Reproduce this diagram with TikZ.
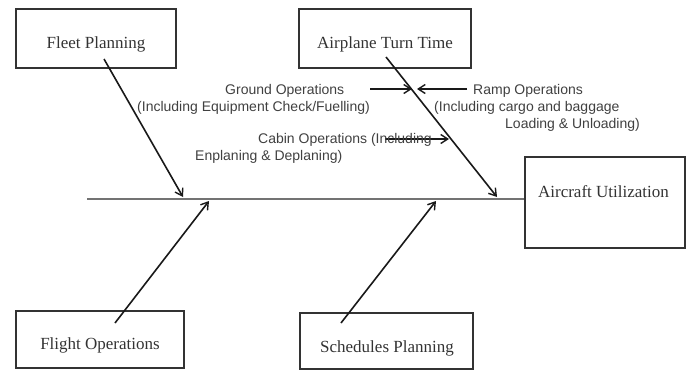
\documentclass[tikz,border=0pt]{standalone}
\usepackage{fontspec}
\setmainfont{Liberation Serif}
\setsansfont{Liberation Sans}
\usetikzlibrary{arrows.meta}
\tikzset{
  boxnode/.style={draw=black!80, line width=1.8pt, inner sep=0pt},
  boxtext/.style={anchor=base, inner sep=0pt, text=black!80, font=\fontsize{17}{20}\selectfont},
  labtext/.style={anchor=base west, inner sep=0pt, text=black!75, font=\sffamily\fontsize{14}{16}\selectfont},
  bone/.style={line width=1.6pt, draw=black!90, -{Straight Barb[length=7pt,width=9pt,line width=1.4pt]}},
  spine/.style={line width=2.4pt, draw=black!55},
}
\begin{document}
\begin{tikzpicture}[x=1pt,y=-1pt]
\useasboundingbox (0,0) rectangle (686,370);
% boxes
\node[boxnode, minimum width=160pt, minimum height=59pt] (fleet) at (96,38.5) {};
\node[boxnode, minimum width=172pt, minimum height=59pt] (turn) at (385,38.5) {};
\node[boxnode, minimum width=160pt, minimum height=91pt] (util) at (605,202.5) {};
\node[boxnode, minimum width=168pt, minimum height=57pt] (flight) at (100,339.5) {};
\node[boxnode, minimum width=173pt, minimum height=56pt] (sched) at (386.5,341) {};
% box texts
\node[boxtext] (tfleet) at (96,48.5) {Fleet Planning};
\node[boxtext] (tturn) at (385,48.5) {Airplane Turn Time};
\node[boxtext] (tutil) at (603.5,197.5) {Aircraft Utilization};
\node[boxtext] (tflight) at (100,349.5) {Flight Operations};
\node[boxtext] (tsched) at (387,352.5) {Schedules Planning};
% spine
\coordinate (sp0) at (87,199);
\draw[spine] (sp0) -- (sp0 -| util.west);
% bone coordinates
\coordinate (f0) at (104,59);  \coordinate (f1) at (183,197);
\coordinate (t0) at (386,57);  \coordinate (t1) at (497,197);
\coordinate (o0) at (115,323); \coordinate (o1) at (209,201);
\coordinate (s0) at (341,323); \coordinate (s1) at (436,201);
\draw[bone] (f0) -- (f1);
\draw[bone] (t0) -- (t1);
\draw[bone] (o0) -- (o1);
\draw[bone] (s0) -- (s1);
% sub-cause arrows
\coordinate (g0) at (370,89); \coordinate (g1) at (412,89);
\coordinate (r0) at (467,89); \coordinate (r1) at (417,89);
\coordinate (c0) at (385,139); \coordinate (c1) at (449,139);
\draw[bone] (g0) -- (g1);
\draw[bone] (r0) -- (r1);
\draw[bone] (c0) -- (c1);
% labels
\node[labtext] (lg1) at (225,94.5) {Ground Operations};
\node[labtext] (lg2) at (137,111.5) {(Including Equipment Check/Fuelling)};
\node[labtext] (lr1) at (473,94.5) {Ramp Operations};
\node[labtext] (lr2) at (434,111.5) {(Including cargo and baggage};
\node[labtext] (lr3) at (505,128.5) {Loading \& Unloading)};
\node[labtext] (lc1) at (258,143.5) {Cabin Operations (Including};
\node[labtext] (lc2) at (195,160.5) {Enplaning \& Deplaning)};
\end{tikzpicture}
\end{document}
